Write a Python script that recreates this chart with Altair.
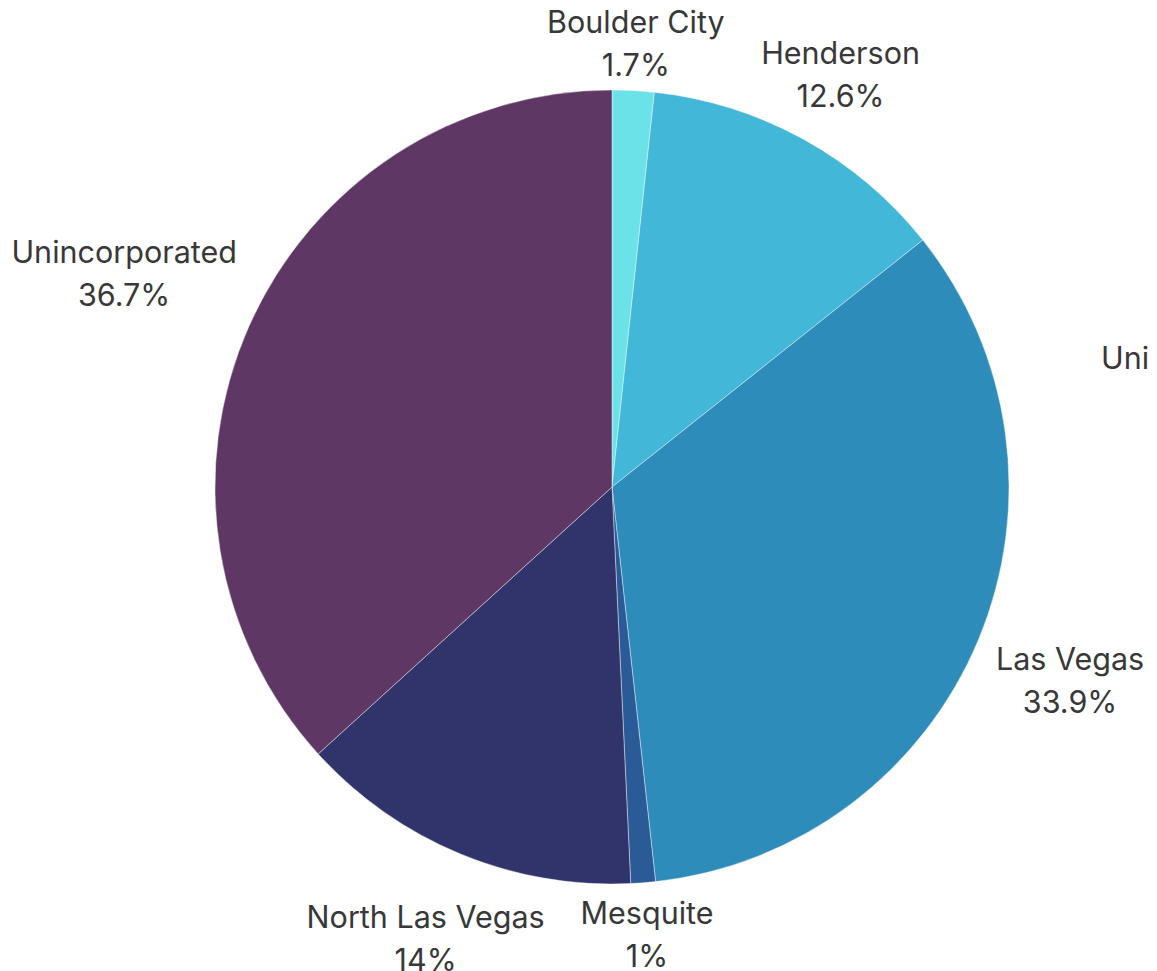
import altair as alt
import pandas as pd

names = ["Boulder City", "Henderson", "Las Vegas", "Mesquite", "North Las Vegas", "Unincorporated"]
values = [1.7, 12.6, 33.9, 1.0, 14.0, 36.7]
colors = ["#6be2e7", "#42b7d7", "#2e8cbb", "#2b5b97", "#30346b", "#5e3764"]
pct_labels = ["1.7%", "12.6%", "33.9%", "1%", "14%", "36.7%"]
extra_label = ["Unincorporated"]

df = pd.DataFrame({"name": names, "value": values, "pct": pct_labels, "idx": list(range(len(names)))})

CX, CY, R = 604, 479, 397
FONT = "Inter"

base = alt.Chart(df)

arcs = base.mark_arc(radius=R, stroke="white", strokeWidth=0.6, strokeOpacity=0.7).encode(
    theta=alt.Theta("value:Q", stack=True),
    color=alt.Color("name:N", scale=alt.Scale(domain=names, range=colors), legend=None),
    order=alt.Order("idx:Q"),
    x=alt.value(CX),
    y=alt.value(CY),
)

labels = base.transform_joinaggregate(
    total="sum(value)"
).transform_window(
    cum="sum(value)", sort=[alt.SortField("idx")]
).transform_calculate(
    mid="(datum.cum - datum.value/2) / datum.total * 2 * PI",
    r="420 + 8.2 * length(datum.name) * abs(sin(datum.mid)) + 21 * abs(cos(datum.mid))",
    lbl="[datum.name, datum.pct]",
).mark_text(
    font=FONT, fontSize=30.5, color="#383838", lineHeight=43, align="center", baseline="middle", dy=-17
).encode(
    theta=alt.Theta("mid:Q", scale=None),
    radius=alt.Radius("r:Q", scale=None),
    text=alt.Text("lbl:N"),
    x=alt.value(CX),
    y=alt.value(CY),
)

extra = alt.Chart(pd.DataFrame({"t": extra_label})).mark_text(
    font=FONT, fontSize=30.5, color="#383838", align="left", baseline="middle", limit=120, ellipsis=" "
).encode(
    text="t:N",
    x=alt.value(1093),
    y=alt.value(352),
)

chart = alt.layer(arcs, labels, extra).properties(
    width=1141, height=963, autosize=alt.AutoSizeParams(type="none"), padding=0
).configure_view(stroke=None)

chart.save("out.html", embed_options={"renderer": "svg", "actions": False})
